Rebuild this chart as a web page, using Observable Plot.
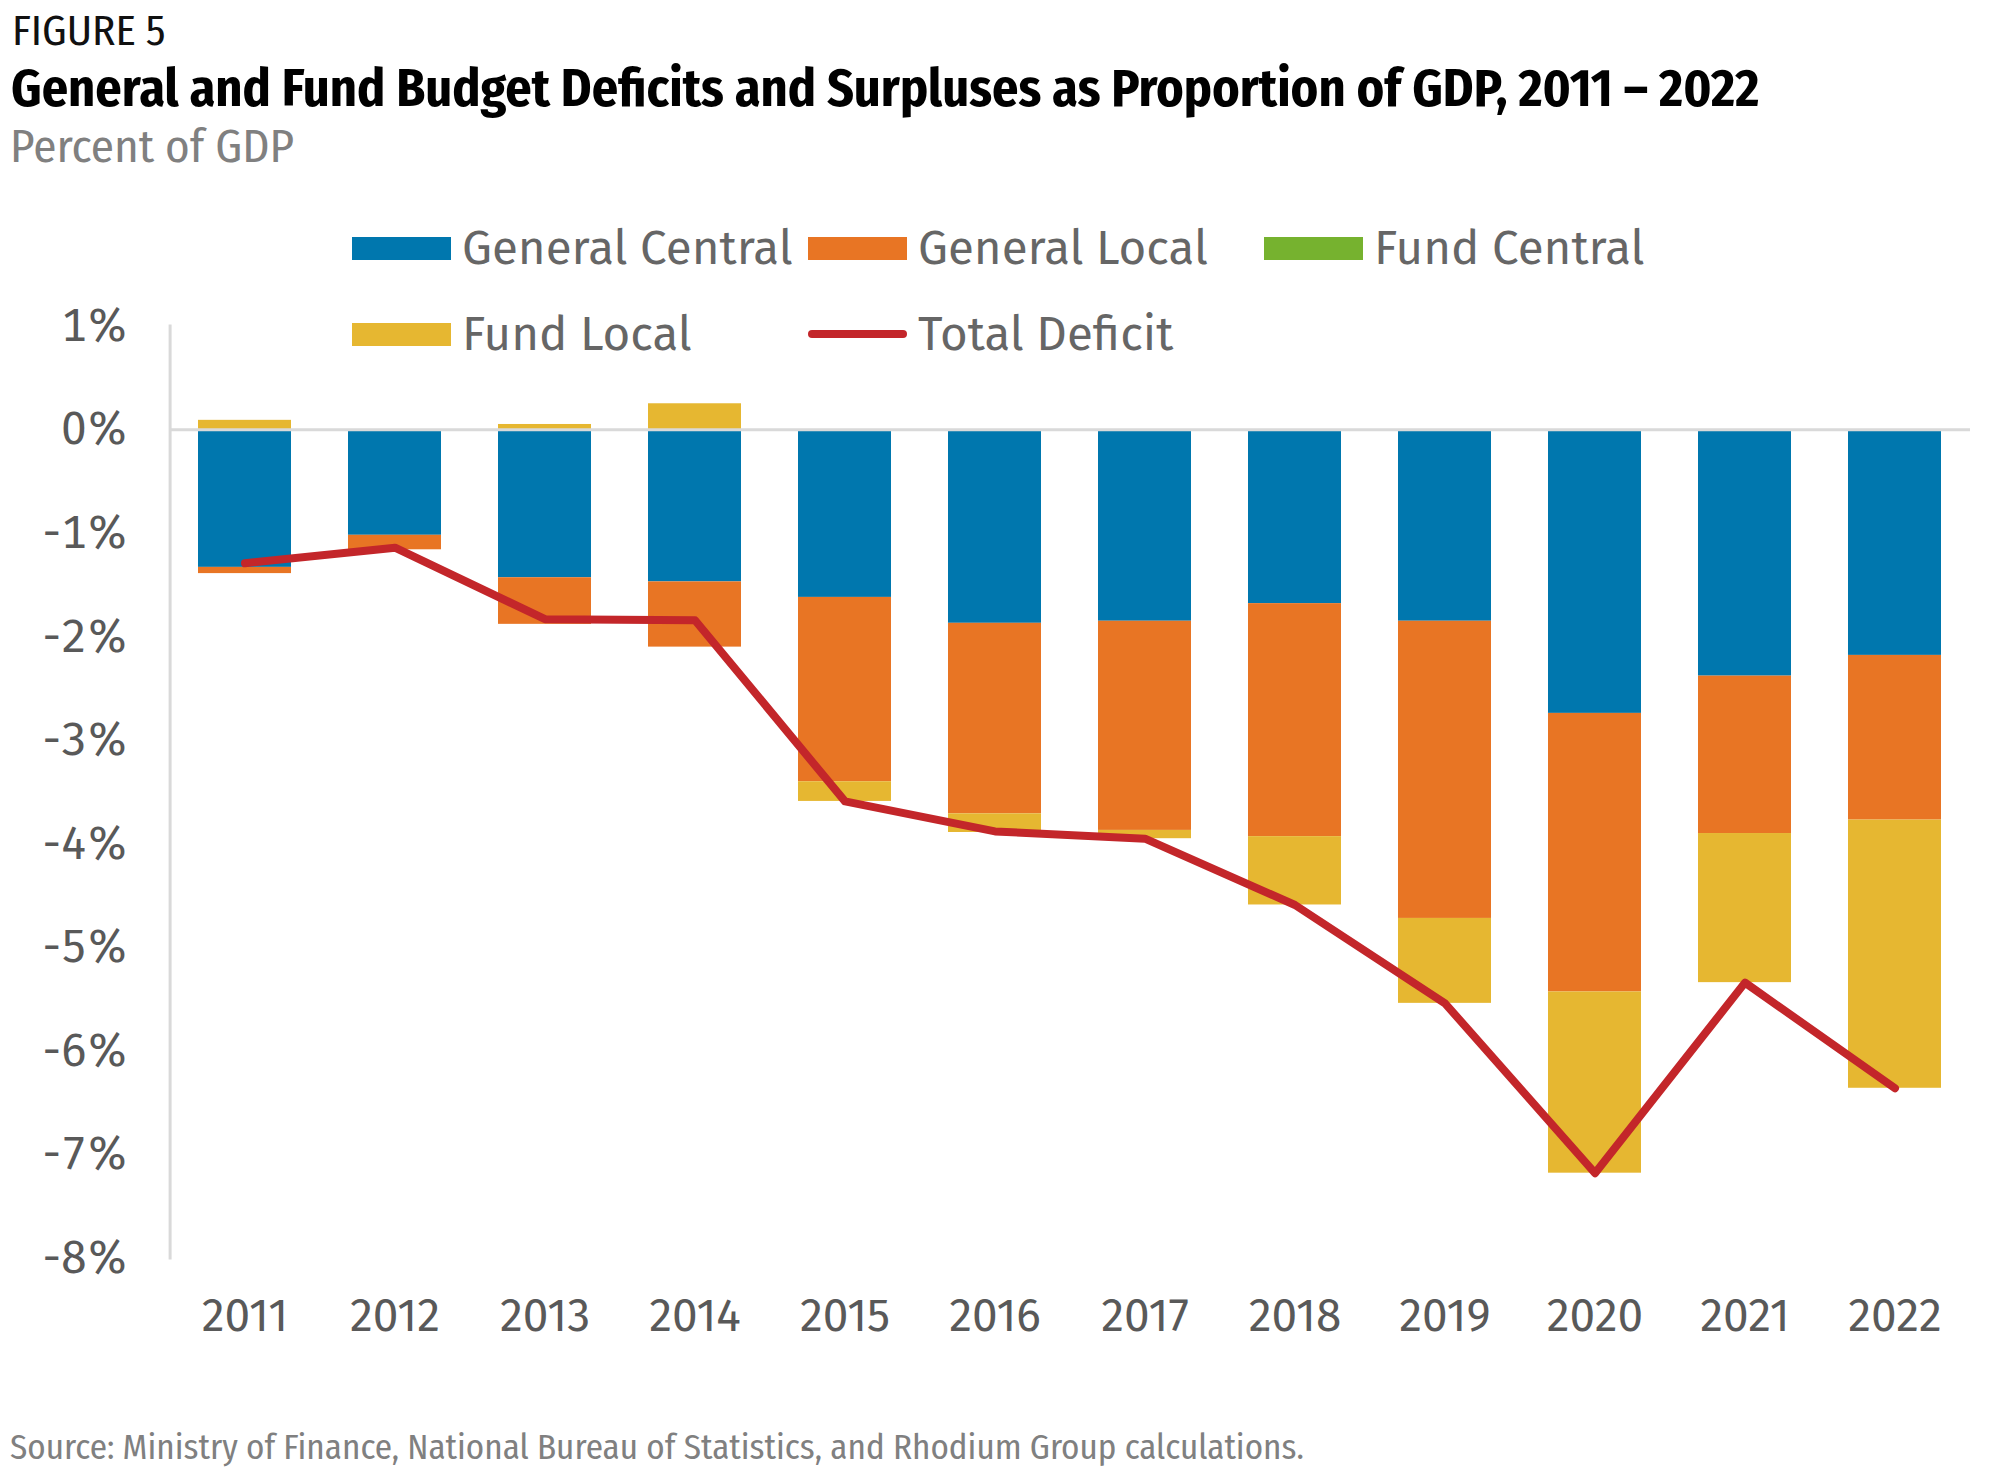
<!DOCTYPE html>
<html>
<head>
<meta charset="utf-8">
<script src="https://cdn.jsdelivr.net/npm/d3@7"></script>
<script src="https://cdn.jsdelivr.net/npm/@observablehq/plot@0.6"></script>
<style>
  html, body { margin: 0; padding: 0; background: #fff; }
  body { width: 2002px; height: 1477px; position: relative; overflow: hidden;
         font-family: "Fira Sans", "Fira Sans Condensed", "Open Sans", sans-serif; }
  .abs { position: absolute; white-space: nowrap; }
  .cond { font-family: "Fira Sans Condensed", "Fira Sans", sans-serif; }
  #fig { left: 12px; top: 5px; font-size: 43px; color: #111; }
  #title { left: 11px; top: 57px; font-size: 52px; font-weight: 700; color: #000; }
  #sub { left: 10px; top: 118px; font-size: 47px; color: #808080; }
  #source { left: 10px; top: 1426px; font-size: 35px; color: #808080; }
  #chart { position: absolute; left: 0; top: 200px; }
  .leg { position: absolute; height: 60px; display: flex; align-items: center; font-size: 47.5px; color: #666; }
  .sw { width: 99px; height: 23px; margin-right: 11px; flex: none; }
  .ln { width: 99px; height: 8px; border-radius: 4px; margin-right: 11px; flex: none; }
</style>
</head>
<body>
<div id="fig" class="abs cond">FIGURE 5</div>
<div id="title" class="abs cond">General and Fund Budget Deficits and Surpluses as Proportion of GDP, 2011 – 2022</div>
<div id="sub" class="abs cond">Percent of GDP</div>
<div id="chart"></div>
<div id="legend"></div>
<div id="source" class="abs cond">Source: Ministry of Finance, National Bureau of Statistics, and Rhodium Group calculations.</div>
<script>
const years = ["2011","2012","2013","2014","2015","2016","2017","2018","2019","2020","2021","2022"];
const seriesNames = ["General Central","General Local","Fund Central","Fund Local"];
const seriesColors = ["#0077ae","#e87524","#76b22f","#e6b731"];
const generalCentral = [-1.33,-1.02,-1.43,-1.47,-1.62,-1.87,-1.85,-1.68,-1.85,-2.74,-2.38,-2.18];
const generalLocal   = [-0.06,-0.14,-0.45,-0.63,-1.78,-1.84,-2.02,-2.25,-2.87,-2.69,-1.52,-1.59];
const fundCentral    = [0,0,0,0,0,0,0,0,0,0,0,0];
const fundLocal      = [0.09,0,0.05,0.25,-0.19,-0.18,-0.08,-0.66,-0.82,-1.75,-1.44,-2.59];
const totalDeficit   = [-1.29,-1.14,-1.83,-1.84,-3.59,-3.88,-3.95,-4.59,-5.54,-7.18,-5.34,-6.36];
const yTicks = [1,0,-1,-2,-3,-4,-5,-6,-7,-8];
const lineName = "Total Deficit";
const lineColor = "#c3262a";

const seriesValues = [generalCentral, generalLocal, fundCentral, fundLocal];
const barData = [];
seriesNames.forEach((s, i) => years.forEach((y, j) => barData.push({year: y, series: s, value: seriesValues[i][j]})));
const lineData = years.map((y, j) => ({year: y, value: totalDeficit[j]}));

const W = 2002, H = 1200;
const chart = Plot.plot({
  width: W, height: H,
  marginTop: 125.6, marginBottom: 142.4, marginLeft: 169.6, marginRight: 32,
  style: {fontFamily: '"Fira Sans","Fira Sans Condensed","Open Sans",sans-serif', fontSize: "46px", color: "#595959", background: "transparent"},
  x: {domain: years, paddingInner: 0.38, paddingOuter: 0.19, label: null},
  y: {domain: [-8, 1], label: null},
  color: {domain: seriesNames, range: seriesColors},
  marks: [
    Plot.barY(barData, {x: "year", y: "value", fill: "series", order: seriesNames}),
    Plot.ruleY([0], {stroke: "#d9d9d9", strokeWidth: 3}),
    Plot.frame({anchor: "left", stroke: "#d9d9d9", strokeWidth: 3}),
    Plot.line(lineData, {x: "year", y: "value", stroke: lineColor, strokeWidth: 8, strokeLinecap: "round", strokeLinejoin: "round"}),
    Plot.axisY(yTicks, {tickSize: 0, tickPadding: 42, tickFormat: d => d + "%", label: null, fill: "#595959"}),
    Plot.axisX({tickSize: 0, tickPadding: 40, label: null, fill: "#595959"})
  ]
});
document.getElementById("chart").appendChild(chart);

// legend (HTML, positioned over the upper chart area)
const legend = document.getElementById("legend");
const legItems = seriesNames.map((s, i) => ({name: s, color: seriesColors[i], kind: "sw"}));
legItems.push({name: lineName, color: lineColor, kind: "ln"});
const colLeft = [352, 808, 1264], rowCenter = [248, 334];
legItems.forEach((it, k) => {
  const r = Math.floor(k / 3), c = k % 3;
  const d = document.createElement("div");
  d.className = "leg";
  d.style.left = colLeft[c] + "px";
  d.style.top = (rowCenter[r] - 30) + "px";
  const sw = document.createElement("div");
  sw.className = it.kind;
  sw.style.background = it.color;
  const t = document.createElement("span");
  t.textContent = it.name;
  d.appendChild(sw); d.appendChild(t);
  legend.appendChild(d);
});
</script>
</body>
</html>
